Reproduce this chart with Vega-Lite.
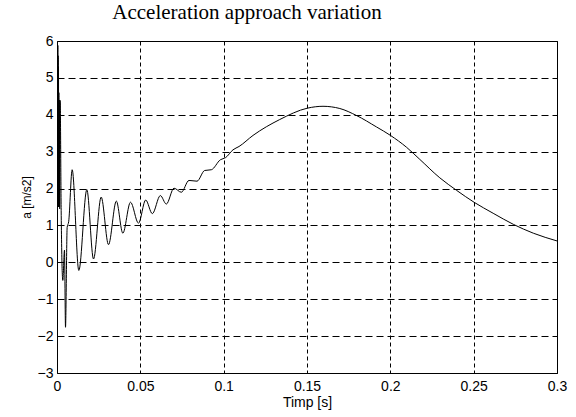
{
  "$schema": "https://vega.github.io/schema/vega-lite/v6.json",
  "autosize": "none",
  "width": 500,
  "height": 332,
  "padding": {"left": 57, "top": 41, "right": 19, "bottom": 44},
  "background": "white",
  "title": {"text": "Acceleration approach variation", "font": "Liberation Serif", "fontSize": 21, "fontWeight": "normal", "color": "black", "offset": 11, "dx": -60, "anchor": "middle"},
  "config": {
    "view": {"stroke": "black", "strokeWidth": 1},
    "axis": {"labelFont": "Liberation Sans", "labelFontSize": 14, "labelColor": "black", "titleFont": "Liberation Sans", "titleFontSize": 14, "titleFontWeight": "normal", "titleColor": "black", "ticks": false, "domain": false, "grid": true, "gridColor": "black", "gridOpacity": 1, "gridWidth": 1}
  },
  "data": {"values": [
    {"t": 0.0, "a": 1.5},
    {"t": 0.0003, "a": 1.55},
    {"t": 0.0005, "a": 5.88},
    {"t": 0.0006, "a": 1.6},
    {"t": 0.0007, "a": 5.6},
    {"t": 0.0008, "a": 1.5},
    {"t": 0.0009, "a": 5.3},
    {"t": 0.001, "a": 1.5},
    {"t": 0.0011, "a": 4.6},
    {"t": 0.0012, "a": 1.5},
    {"t": 0.0014, "a": 4.4},
    {"t": 0.0016, "a": 1.45},
    {"t": 0.0019, "a": 4.39},
    {"t": 0.0025, "a": 1.41},
    {"t": 0.0031, "a": -0.22},
    {"t": 0.0035, "a": -0.49},
    {"t": 0.0045, "a": 0.33},
    {"t": 0.0051, "a": -1.76},
    {"t": 0.0061, "a": 0.95},
    {"t": 0.007, "a": 1.1},
    {"t": 0.0091, "a": 2.51},
    {"t": 0.0131, "a": -0.22},
    {"t": 0.0179, "a": 1.97},
    {"t": 0.0219, "a": 0.09},
    {"t": 0.0265, "a": 1.77},
    {"t": 0.0309, "a": 0.48},
    {"t": 0.0356, "a": 1.66},
    {"t": 0.0395, "a": 0.79},
    {"t": 0.0441, "a": 1.63},
    {"t": 0.0489, "a": 1.06},
    {"t": 0.0532, "a": 1.69},
    {"t": 0.0572, "a": 1.32},
    {"t": 0.062, "a": 1.81},
    {"t": 0.0656, "a": 1.58},
    {"t": 0.0702, "a": 2.01},
    {"t": 0.0746, "a": 1.9},
    {"t": 0.0792, "a": 2.22},
    {"t": 0.084, "a": 2.2},
    {"t": 0.0886, "a": 2.49},
    {"t": 0.0926, "a": 2.51},
    {"t": 0.098, "a": 2.78},
    {"t": 0.1012, "a": 2.84},
    {"t": 0.1056, "a": 3.05},
    {"t": 0.1092, "a": 3.14},
    {"t": 0.1176, "a": 3.44},
    {"t": 0.1336, "a": 3.87},
    {"t": 0.1503, "a": 4.18},
    {"t": 0.1596, "a": 4.23},
    {"t": 0.1697, "a": 4.17},
    {"t": 0.1797, "a": 3.98},
    {"t": 0.1917, "a": 3.67},
    {"t": 0.2001, "a": 3.44},
    {"t": 0.2097, "a": 3.12},
    {"t": 0.2177, "a": 2.79},
    {"t": 0.2297, "a": 2.29},
    {"t": 0.2398, "a": 1.95},
    {"t": 0.2502, "a": 1.63},
    {"t": 0.2617, "a": 1.33},
    {"t": 0.2738, "a": 1.03},
    {"t": 0.2858, "a": 0.79},
    {"t": 0.3, "a": 0.58}
  ]},
  "mark": {"type": "line", "color": "black", "strokeWidth": 1, "clip": true, "interpolate": "monotone"},
  "encoding": {
    "x": {"field": "t", "type": "quantitative", "title": "Timp [s]",
      "scale": {"domain": [0, 0.3], "nice": false},
      "axis": {"values": [0, 0.05, 0.1, 0.15, 0.2, 0.25, 0.3], "labelExpr": "datum.value", "labelPadding": 6, "titlePadding": 2, "gridDash": [4, 3], "labelFlush": false, "labelOverlap": false}
    },
    "y": {"field": "a", "type": "quantitative", "title": "a [m/s2]",
      "scale": {"domain": [-3, 6], "nice": false, "zero": false},
      "axis": {"values": [-3, -2, -1, 0, 1, 2, 3, 4, 5, 6], "labelPadding": 4, "titleFontSize": 12, "titleX": -24, "titleY": 156, "titleAngle": -90, "titleBaseline": "bottom", "titleAlign": "center", "gridDash": [7, 4], "labelFlush": false, "labelOverlap": false}
    }
  }
}
